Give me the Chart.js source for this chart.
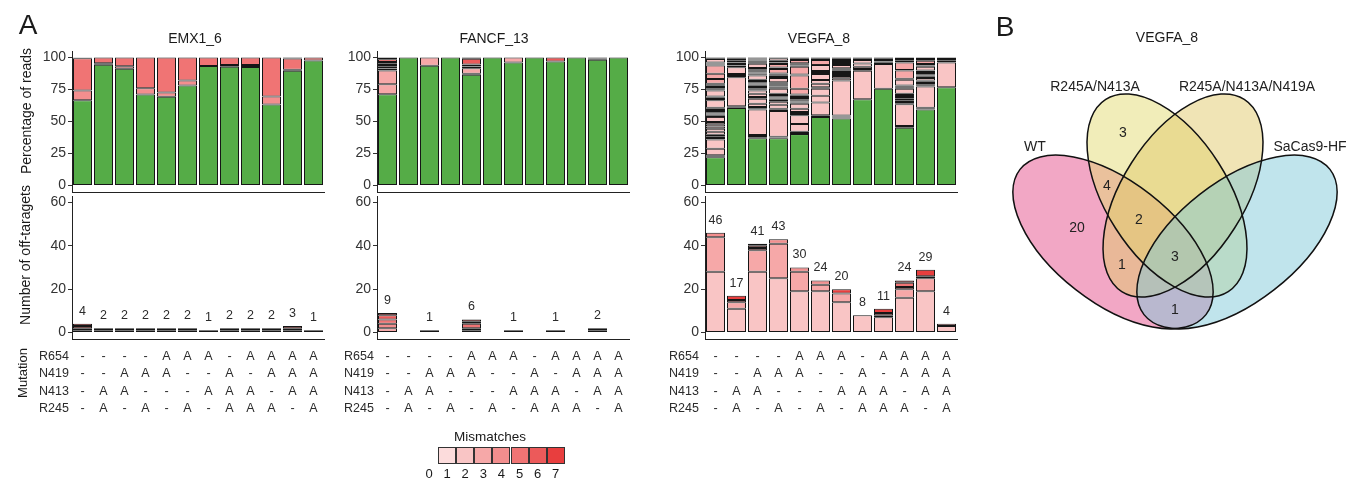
<!DOCTYPE html>
<html>
<head>
    <meta charset="utf-8">
    <title>Off-target mismatches</title>
    <style>
        body{ margin:0; background:#fff; }
        #page{ position:relative; width:1346px; height:481px; overflow:hidden; font-family:"Liberation Sans", Arial, sans-serif; color:#1a1a1a; }
        canvas{ position:absolute; left:0; top:0; }
        .txt{ position:absolute; white-space:nowrap; transform:translate(-50%,-50%); line-height:1; }
        .rot{ transform:translate(-50%,-50%) rotate(-90deg); }
        .key{ position:absolute; top:447px; width:18px; height:17px; box-sizing:border-box; border:1px solid #333; }
    </style>
</head>
<body>
<div id="page">
    <canvas id="emx1Top" width="1346" height="481"></canvas>
    <canvas id="fancfTop" width="1346" height="481"></canvas>
    <canvas id="vegfaTop" width="1346" height="481"></canvas>
    <canvas id="emx1Count" width="1346" height="481"></canvas>
    <canvas id="fancfCount" width="1346" height="481"></canvas>
    <canvas id="vegfaCount" width="1346" height="481"></canvas>
    <canvas id="venn" width="1346" height="481"></canvas>

    <div class="txt" style="left:28px;top:25px;font-size:28px;">A</div>
    <div class="txt" style="left:1005px;top:27px;font-size:28px;">B</div>
    <div class="txt" style="left:195px;top:38px;font-size:14px;">EMX1_6</div>
    <div class="txt" style="left:494px;top:38px;font-size:14px;">FANCF_13</div>
    <div class="txt" style="left:819px;top:38px;font-size:14px;">VEGFA_8</div>
    <div class="txt" style="left:1167px;top:37px;font-size:14px;">VEGFA_8</div>
    <div class="txt rot" style="left:26px;top:111px;font-size:14px;">Percentage of reads</div>
    <div class="txt rot" style="left:25px;top:255px;font-size:14px;">Number of off-taragets</div>
    <div class="txt rot" style="left:22px;top:373px;font-size:13px;">Mutation</div>
    <div class="txt" style="left:490px;top:437px;font-size:13.5px;">Mismatches</div>
    <div id="legend"></div>
</div>

<script src="https://cdn.jsdelivr.net/npm/chart.js@4.4.0/dist/chart.umd.min.js"></script>
<script>
    // ---- data ----
    const barIds = ['1', '2', '3', '4', '5', '6', '7', '8', '9', '10', '11', '12'];
    const readTicks = [0, 25, 50, 75, 100];
    const countTicks = [0, 20, 40, 60];
    const mismatchLevels = [0, 1, 2, 3, 4, 5, 6, 7];

    const r654 = ['-', '-', '-', '-', 'A', 'A', 'A', '-', 'A', 'A', 'A', 'A'];
    const n419 = ['-', '-', 'A', 'A', 'A', '-', '-', 'A', '-', 'A', 'A', 'A'];
    const n413 = ['-', 'A', 'A', '-', '-', '-', 'A', 'A', 'A', '-', 'A', 'A'];
    const r245 = ['-', 'A', '-', 'A', '-', 'A', '-', 'A', 'A', 'A', '-', 'A'];

    // percentage of reads: [percent, mismatches] from bottom to top, 0 = on-target
    const emx1Reads = [
        [[66.6,0],[7.5,4],[25.2,5],[0.4,6],[0.3,7]],
        [[94.3,0],[1.2,4],[4.5,5]],
        [[91.2,0],[2.0,4],[6.8,5]],
        [[71.0,0],[5.0,4],[24.0,5]],
        [[69.4,0],[3.3,4],[27.3,5]],
        [[78.0,0],[4.0,4],[18.0,5]],
        [[93.3,0],[6.7,5]],
        [[92.8,0],[1.2,4],[6.0,5]],
        [[92.5,0],[1.5,4],[6.0,5]],
        [[63.3,0],[6.2,4],[30.5,5]],
        [[89.6,0],[0.7,4],[8.9,5],[0.8,6]],
        [[97.5,0],[2.5,5]]
    ];
    const fancfReads = [
        [[71.2,0],[7.8,3],[10.8,3],[1.5,4],[1.5,5],[1.2,4],[1.5,5],[1.0,6],[2.0,6],[1.5,7]],
        [[100,0]],
        [[93.5,0],[6.5,3]],
        [[100,0]],
        [[86.5,0],[0.8,4],[4.2,3],[1.5,5],[1.5,5],[4.5,6],[1.0,7]],
        [[100,0]],
        [[96.0,0],[4.0,3]],
        [[100,0]],
        [[96.8,0],[3.2,6]],
        [[100,0]],
        [[98.2,0],[0.9,4],[0.9,5]],
        [[100,0]]
    ];
    const vegfaReads = [
        [[22.2,0],[0.7,2],[0.8,3],[5,2],[7.3,2],[1.2,2],[1.3,2],[1.2,2],[2.3,2],[2.3,2],[1.8,2],[1.8,2],[1.8,2],[3.9,2],[0.9,2],[0.9,3],[0.9,2],[0.9,2],[0.9,3],[0.9,2],[0.9,2],[0.9,2],[5.7,2],[1,2],[1,3],[1.1,2],[4.6,2],[0.9,2],[0.9,3],[0.9,2],[0.9,2],[0.9,2],[0.7,3],[3.8,3],[4,3],[6.4,3],[0.8,2],[0.9,3],[0.8,2],[2.6,2],[0.6,3],[0.7,4]],
        [[60.6,0],[0.6,2],[0.7,3],[22.6,2],[0.9,2],[0.9,3],[0.8,2],[5.2,2],[1.3,3],[1.2,2],[1.3,3],[1.3,2],[1.6,2],[1,3]],
        [[36.9,0],[0.8,2],[0.9,3],[0.8,2],[19.9,2],[1,2],[1,3],[2.6,2],[3.9,2],[1.3,2],[2.5,2],[2.6,2],[0.9,2],[0.9,3],[1,2],[0.9,2],[0.9,3],[0.9,2],[0.9,2],[0.9,2],[1,3],[3.3,2],[1,2],[0.7,2],[0.7,2],[0.7,2],[0.7,2],[0.7,2],[0.7,2],[0.7,2],[3.3,2],[0.8,3],[0.8,2],[0.9,2],[0.8,3],[0.9,2],[0.8,4]],
        [[36.9,0],[0.6,2],[0.7,3],[20,2],[0.9,2],[0.9,3],[3,2],[2.5,2],[1.5,2],[0.9,2],[0.9,3],[0.9,2],[1,2],[0.9,2],[3.9,2],[0.9,2],[0.9,2],[0.9,3],[0.9,2],[0.8,2],[0.8,2],[3.3,2],[0.7,2],[0.7,2],[0.7,2],[0.7,2],[0.7,2],[3.4,3],[1.2,2],[2.7,3],[1.3,2],[1.2,3],[2,2],[0.7,3]],
        [[40.2,0],[0.9,2],[0.9,3],[6,2],[6.9,2],[0.9,2],[0.8,3],[0.9,2],[2.5,2],[3.9,2],[0.9,2],[0.9,3],[0.9,2],[0.8,2],[0.9,3],[0.8,2],[1,2],[1,3],[4.4,3],[10.3,3],[0.8,2],[6.2,3],[0.9,2],[0.9,3],[0.8,2],[2.6,3],[1,4],[1,5]],
        [[53.6,0],[0.6,2],[0.7,3],[10,2],[5.2,2],[5.4,2],[1.2,2],[2.7,2],[3,2],[4.6,2],[0.8,2],[0.8,3],[0.8,2],[4.6,2],[4,3],[1,2],[1,3]],
        [[52.3,0],[0.8,2],[0.8,3],[0.8,2],[27.2,2],[1.8,2],[1.8,2],[0.8,2],[0.8,3],[0.7,2],[0.8,2],[0.7,3],[0.7,2],[0.7,2],[0.8,2],[2.5,2],[0.8,2],[0.8,3],[0.8,2],[0.8,2],[0.8,3],[1,6],[1,7]],
        [[67.4,0],[22.2,2],[1.4,2],[1.7,2],[2.6,2],[2.6,2],[1,2],[1.1,3]],
        [[75.5,0],[19.3,2],[1,2],[1,3],[1.1,2],[1,2],[1.1,3]],
        [[45.1,0],[0.6,2],[0.7,3],[17,2],[0.9,2],[0.9,3],[1.3,2],[1.3,2],[1.3,2],[0.8,2],[0.8,2],[0.9,3],[3.9,2],[0.9,2],[0.8,3],[0.9,2],[4.4,2],[0.8,2],[6.4,3],[0.5,2],[5.9,3],[1.3,2],[1.3,3],[1.3,2]],
        [[59.3,0],[0.7,2],[0.8,3],[16.5,2],[0.9,2],[0.9,3],[1,2],[1,2],[0.9,3],[2,2],[0.9,2],[1,3],[0.9,2],[1,2],[0.9,3],[1,2],[3.1,2],[0.9,2],[1.1,3],[2.6,3],[1.3,2],[1.3,3]],
        [[76.8,0],[19.3,2],[1.3,3],[1.3,2],[1.3,4]]
    ];

    // number of off-targets per mismatch class 1..7
    const emx1Counts = [
        [0,0,0,1,1,1,1], [0,0,0,1,1,0,0], [0,0,0,1,1,0,0], [0,0,0,1,1,0,0],
        [0,0,0,1,1,0,0], [0,0,0,1,1,0,0], [0,0,0,0,1,0,0], [0,0,0,1,1,0,0],
        [0,0,0,1,1,0,0], [0,0,0,1,1,0,0], [0,0,0,1,1,1,0], [0,0,0,0,1,0,0]
    ];
    const fancfCounts = [
        [0,0,2,2,2,2,1], [0,0,0,0,0,0,0], [0,0,1,0,0,0,0], [0,0,0,0,0,0,0],
        [0,0,1,1,2,1,1], [0,0,0,0,0,0,0], [0,0,1,0,0,0,0], [0,0,0,0,0,0,0],
        [0,0,0,0,0,1,0], [0,0,0,0,0,0,0], [0,0,0,1,1,0,0], [0,0,0,0,0,0,0]
    ];
    const vegfaCounts = [
        [0,28,16,2,0,0,0], [0,11,3,1,0,0,2], [0,28,10,1,1,0,1], [0,25,16,2,0,0,0],
        [0,19,9,2,0,0,0], [0,19,3,2,0,0,0], [0,14,4,0,0,0,2], [0,8,0,0,0,0,0],
        [0,7,1,1,0,0,2], [0,16,4,1,2,1,0], [0,19,6,1,0,0,3], [0,3,1,0,0,0,0]
    ];

    // Venn (VEGFA_8)
    const vennSets = ['WT', 'R245A/N413A', 'R245A/N413A/N419A', 'SaCas9-HF'];
    const vennCounts = [20, 3, 4, 2, 1, 3, 1];

    // ---- layout / style ----
    const W = 1346, H = 481;
    const palette = ['#55ac47', '#fcdcdc', '#f9c5c5', '#f6a8a8', '#f38e8e', '#f07474', '#ec5a5a', '#e83e3e'];
    const edge = '#161616';
    const panelX = [[72, 324], [377, 629], [705, 957]];
    const rowLabelX = [39, 344, 669];
    const topArea = [51, 192];
    const countArea = [196, 339];
    const barShare = 19 / 21;

    Chart.defaults.font.family = '"Liberation Sans", Arial, sans-serif';

    function baseOptions(px, area, lo, hi, ticks) {
        return {
            responsive: false,
            animation: false,
            events: [],
            plugins: {legend: {display: false}, tooltip: {enabled: false}},
            layout: {padding: {left: px[0] - 40, right: W - px[1], top: area[0], bottom: H - area[1]}},
            scales: {
                x: {
                    stacked: true,
                    grid: {display: false},
                    ticks: {display: false},
                    border: {color: '#222', width: 1},
                    afterFit: s => { s.height = 0; }
                },
                y: {
                    stacked: true,
                    min: lo,
                    max: hi,
                    afterBuildTicks: s => { s.ticks = ticks.map(v => ({value: v})); },
                    grid: {drawOnChartArea: false, tickLength: 4, color: '#333'},
                    border: {color: '#222', width: 1},
                    ticks: {color: '#333', font: {size: 14}, padding: 2},
                    afterFit: s => { s.width = 40; }
                }
            }
        };
    }

    function readsChart(id, segs, px) {
        const layers = Math.max(...segs.map(s => s.length));
        const datasets = [];
        for (let k = 0; k < layers; k++) {
            datasets.push({
                data: segs.map(s => s[k] ? s[k][0] : null),
                backgroundColor: segs.map(s => s[k] ? palette[s[k][1]] : 'rgba(0,0,0,0)'),
                borderColor: edge,
                borderWidth: 1,
                borderSkipped: false,
                categoryPercentage: barShare,
                barPercentage: 1
            });
        }
        new Chart(id, {type: 'bar', data: {labels: barIds, datasets: datasets}, options: baseOptions(px, topArea, -5, 105, readTicks)});
    }

    function countsChart(id, counts, px, labelX) {
        const datasets = [];
        for (let c = 1; c <= 7; c++) {
            datasets.push({
                data: counts.map(b => b[c - 1] > 0 ? b[c - 1] : null),
                backgroundColor: palette[c],
                borderColor: edge,
                borderWidth: 1,
                borderSkipped: false,
                categoryPercentage: barShare,
                barPercentage: 1
            });
        }
        const extras = {
            id: 'extras',
            afterDraw(chart) {
                const ctx = chart.ctx, xs = chart.scales.x, ys = chart.scales.y;
                ctx.save();
                ctx.fillStyle = '#2b2b2b';
                ctx.textBaseline = 'middle';
                ctx.textAlign = 'center';
                ctx.font = '12.5px "Liberation Sans", Arial, sans-serif';
                counts.forEach((b, i) => {
                    const total = b.reduce((a, v) => a + v, 0);
                    if (total > 0) ctx.fillText(String(total), xs.getPixelForValue(i), ys.getPixelForValue(total) - 12.5);
                });
                const rows = [['R654', r654], ['N419', n419], ['N413', n413], ['R245', r245]];
                rows.forEach((r, j) => {
                    const y = chart.chartArea.bottom + 17.7 + j * 17.2;
                    ctx.textAlign = 'left';
                    ctx.fillText(r[0], labelX, y);
                    ctx.textAlign = 'center';
                    r[1].forEach((v, i) => ctx.fillText(v, xs.getPixelForValue(i), y));
                });
                ctx.restore();
            }
        };
        new Chart(id, {type: 'bar', data: {labels: barIds, datasets: datasets}, options: baseOptions(px, countArea, -3, 63, countTicks), plugins: [extras]});
    }

    readsChart('emx1Top', emx1Reads, panelX[0]);
    readsChart('fancfTop', fancfReads, panelX[1]);
    readsChart('vegfaTop', vegfaReads, panelX[2]);
    countsChart('emx1Count', emx1Counts, panelX[0], rowLabelX[0]);
    countsChart('fancfCount', fancfCounts, panelX[1], rowLabelX[1]);
    countsChart('vegfaCount', vegfaCounts, panelX[2], rowLabelX[2]);

    // legend keys
    const legend = document.getElementById('legend');
    mismatchLevels.forEach(m => {
        const cx = 429 + 18.1 * m;
        if (m > 0) {
            const key = document.createElement('div');
            key.className = 'key';
            key.style.left = (cx - 9) + 'px';
            key.style.background = palette[m];
            legend.appendChild(key);
        }
        const t = document.createElement('div');
        t.className = 'txt';
        t.style.left = cx + 'px';
        t.style.top = '473px';
        t.style.fontSize = '13px';
        t.textContent = String(m);
        legend.appendChild(t);
    });

    // ---- Venn: ellipses and label spots in chart units ----
    const vennEllipses = [
        {x: 11.7, y: 10.4, a: 11.8, b: 6.05, angle: -38, fill: 'rgba(229,79,139,0.5)'},
        {x: 17.1, y: 15.05, a: 11.4, b: 6.1, angle: -57.5, fill: 'rgba(227,219,115,0.5)'},
        {x: 18.7, y: 15.05, a: 11.4, b: 6.1, angle: 57.5, fill: 'rgba(225,201,107,0.5)'},
        {x: 24.1, y: 10.4, a: 11.8, b: 6.05, angle: 38, fill: 'rgba(129,201,217,0.5)'}
    ];
    const vennCountSpots = [[8.1, 11.8], [12.7, 21.3], [11.1, 16.0], [14.3, 12.6], [12.6, 8.1], [17.9, 8.9], [17.9, 3.6]];
    const vennNameSpots = [[3.9, 19.9], [9.9, 25.9], [25.1, 25.9], [31.4, 19.9]];

    const vennPlugin = {
        id: 'vennShapes',
        beforeDatasetsDraw(chart) {
            const ctx = chart.ctx, xs = chart.scales.x, ys = chart.scales.y;
            const shapes = vennEllipses.map(e => ({
                cx: xs.getPixelForValue(e.x),
                cy: ys.getPixelForValue(e.y),
                rx: Math.abs(xs.getPixelForValue(e.x + e.a) - xs.getPixelForValue(e.x)),
                ry: Math.abs(ys.getPixelForValue(e.y + e.b) - ys.getPixelForValue(e.y)),
                rot: -e.angle * Math.PI / 180,
                fill: e.fill
            }));
            ctx.save();
            shapes.forEach(s => {
                ctx.beginPath();
                ctx.ellipse(s.cx, s.cy, s.rx, s.ry, s.rot, 0, Math.PI * 2);
                ctx.fillStyle = s.fill;
                ctx.fill();
            });
            ctx.strokeStyle = '#111';
            ctx.lineWidth = 1.5;
            shapes.forEach(s => {
                ctx.beginPath();
                ctx.ellipse(s.cx, s.cy, s.rx, s.ry, s.rot, 0, Math.PI * 2);
                ctx.stroke();
            });
            ctx.restore();
        },
        afterDatasetsDraw(chart) {
            const ctx = chart.ctx;
            ctx.save();
            ctx.fillStyle = '#222';
            ctx.textAlign = 'center';
            ctx.textBaseline = 'middle';
            ctx.font = '14px "Liberation Sans", Arial, sans-serif';
            chart.getDatasetMeta(0).data.forEach((p, i) => ctx.fillText(String(vennCounts[i]), p.x, p.y));
            chart.getDatasetMeta(1).data.forEach((p, i) => ctx.fillText(vennSets[i], p.x, p.y));
            ctx.restore();
        }
    };

    new Chart('venn', {
        type: 'scatter',
        data: {
            datasets: [
                {data: vennCountSpots.map(p => ({x: p[0], y: p[1]})), pointRadius: 0},
                {data: vennNameSpots.map(p => ({x: p[0], y: p[1]})), pointRadius: 0}
            ]
        },
        options: {
            responsive: false,
            animation: false,
            events: [],
            plugins: {legend: {display: false}, tooltip: {enabled: false}},
            layout: {padding: {left: 996, right: 0, top: 66, bottom: H - 346}},
            scales: {
                x: {type: 'linear', min: 0, max: 35, display: false},
                y: {type: 'linear', min: 0, max: 28, display: false}
            }
        },
        plugins: [vennPlugin]
    });
</script>
</body>
</html>
